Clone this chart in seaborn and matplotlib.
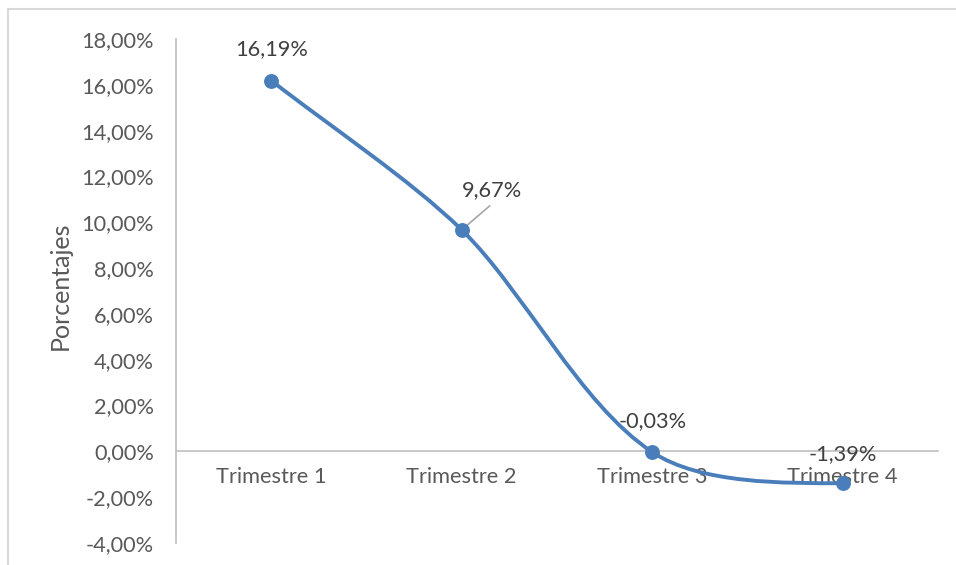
import numpy as np
import pandas as pd
import matplotlib
matplotlib.use('Agg')
import matplotlib.pyplot as plt
from matplotlib.path import Path
from matplotlib.patches import PathPatch
from matplotlib.lines import Line2D
import seaborn as sns

# data
trimestres = ['Trimestre 1', 'Trimestre 2', 'Trimestre 3', 'Trimestre 4']
porcentajes = [16.19, 9.67, -0.03, -1.39]
etiquetas = ['16,19%', '9,67%', '-0,03%', '-1,39%']
yticks = [-4, -2, 0, 2, 4, 6, 8, 10, 12, 14, 16, 18]

sns.set_style('white')
plt.rcParams['font.family'] = ['Lato', 'DejaVu Sans']

azul = '#4A7EBB'
gris_txt = '#595959'
gris_eje = '#BFBFBF'

df = pd.DataFrame({'trim': trimestres, 'pct': porcentajes})
xs = np.arange(len(df))

fig = plt.figure(figsize=(9.56, 5.65), dpi=100)
ax = fig.add_axes([0.1841, 0.0389, 0.797, 0.892])
ax.spines['top'].set_visible(False)
ax.spines['right'].set_visible(False)
ax.spines['bottom'].set_position(('data', 0))
for s in ['left', 'bottom']:
    ax.spines[s].set_color(gris_eje)
    ax.spines[s].set_linewidth(1.2)

ax.set_xlim(-0.5, 3.5)
ax.set_ylim(-4, 18)

#%% smoothed line: bezier through the points
k = (ax.bbox.height / 22.0) / (ax.bbox.width / 4.0)   # y units -> x units on screen
pts = np.column_stack([xs, df['pct'].values]).astype(float)
scr = pts * np.array([1.0, k])
n = len(pts)
tang = []
for i in range(n):
    if i == 0 or i == n - 1:
        # endpoint: along the chord, flattened if the curve turns back
        j = 1 if i == 0 else -1
        d1 = scr[i + j] - scr[i]
        d2 = scr[i + 2 * j] - scr[i + j]
        est = (3 * d1 - d2) / 2
        d = d1.copy() if np.sign(est[1]) == np.sign(d1[1]) else np.array([d1[0], 0.0])
        d = d * j
    else:
        d = scr[i + 1] - scr[i - 1]
    tang.append(d / np.linalg.norm(d))
f = 0.3
verts = [tuple(pts[0])]
codes = [Path.MOVETO]
for i in range(n - 1):
    L = np.linalg.norm(scr[i + 1] - scr[i])
    c1 = (scr[i] + tang[i] * L * f) / np.array([1.0, k])
    c2 = (scr[i + 1] - tang[i + 1] * L * f) / np.array([1.0, k])
    verts += [tuple(c1), tuple(c2), tuple(pts[i + 1])]
    codes += [Path.CURVE4, Path.CURVE4, Path.CURVE4]
ax.add_patch(PathPatch(Path(verts, codes), facecolor='none', edgecolor=azul,
                       lw=2.8, capstyle='round', zorder=3))

sns.scatterplot(data=df, x=xs, y='pct', ax=ax, color=azul, s=115,
                edgecolor=azul, linewidth=0, zorder=4, legend=False)

ax.set_xlim(-0.5, 3.5)
ax.set_ylim(-4, 18)
ax.set_yticks(yticks)
ax.set_yticklabels([f'{v:.2f}'.replace('.', ',') + '%' for v in yticks],
                   fontsize=15.7, color=gris_txt)
ax.set_xticks(xs)
ax.set_xticklabels(trimestres, fontsize=15.7, color=gris_txt)
ax.tick_params(axis='both', length=0)
ax.tick_params(axis='x', pad=11)
ax.tick_params(axis='y', pad=16)

ax.set_xlabel('')
ax.set_ylabel('Porcentajes', fontsize=18, color=gris_txt)
ax.yaxis.set_label_coords(-0.137, 0.51)

#%% data labels
off = {0: (0, 21), 1: (30, 30), 2: (0, 21), 3: (0, 19)}
for i, (v, t) in enumerate(zip(porcentajes, etiquetas)):
    dx, dy = off[i]
    ax.annotate(t, (xs[i], v), xytext=(dx, dy), textcoords='offset pixels',
                ha='center', va='bottom', fontsize=15.7, color='#404040', zorder=5)
# leader line for 9,67%
ax.annotate('', (xs[1], porcentajes[1]), xytext=(28, 24), textcoords='offset pixels',
            arrowprops=dict(arrowstyle='-', color='#A6A6A6', lw=1.2,
                            shrinkA=0, shrinkB=0))

# outer frame of the chart area (top and left edges)
fig.add_artist(Line2D([8 / 956, 1], [1 - 9 / 565] * 2, transform=fig.transFigure,
                      color='#D9D9D9', lw=1.5))
fig.add_artist(Line2D([8 / 956] * 2, [0, 1 - 9 / 565], transform=fig.transFigure,
                      color='#D9D9D9', lw=1.5))

fig.savefig('out.png', dpi=100)
